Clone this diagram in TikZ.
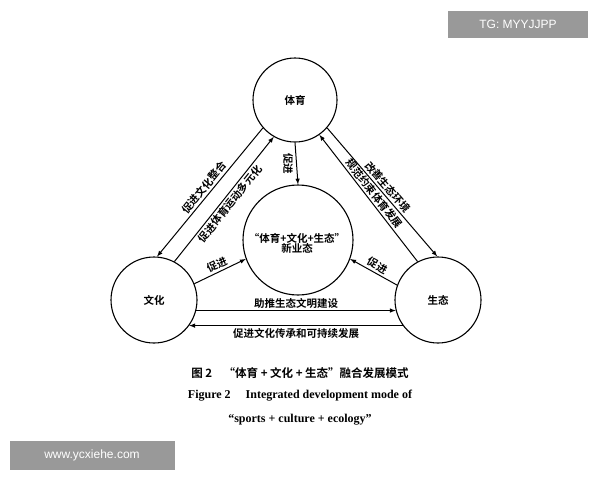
\documentclass[tikz,border=0pt]{standalone}
\usepackage{fontspec}
\setmainfont{Liberation Serif}
\newfontfamily\cjk{Noto Sans CJK SC}[BoldFont={* Bold}]
\newfontfamily\wm{Liberation Sans}
\begin{document}
\begin{tikzpicture}[x=1pt,y=-1pt,
  circ/.style={draw,circle,line width=1.1pt,inner sep=0pt},
  arr/.style={->,line width=1pt,>=latex},
  cj/.style={font=\cjk\bfseries\fontsize{10.5}{12}\selectfont},
  lab/.style={cj,sloped,inner sep=2pt}]
\fill[white] (0,0) rectangle (600,480);
\useasboundingbox (0,0) rectangle (600,480);
\node[circ,minimum size=84pt] (top) at (295,100) {};
\node[circ,minimum size=86pt] (left) at (154,300) {};
\node[circ,minimum size=86pt] (right) at (438,300) {};
\node[circ,minimum size=110pt] (mid) at (298,240) {};
\node[cj] (ttop) at (top) {体育};
\node[cj] (tleft) at (left) {文化};
\node[cj] (tright) at (right) {生态};
\node[cj,align=center] (tmid) at (297,243) {“体育+文化+生态”\\[-2pt]新业态};
% left edge
\draw[arr] (top.221) -- node[lab,anchor=south] {促进文化整合} (left.86);
\draw[arr] (left.62) -- node[lab,auto,swap] {促进体育运动多元化} (top.240);
% right edge
\draw[arr] (top.319) -- node[lab,anchor=south] {改善生态环境} (right.91);
\draw[arr] (right.118) -- node[lab,auto] {规范约束体育发展} (top.305);
% bottom
\draw[arr] (left.-14) -- node[lab,anchor=south] {助推生态文明建设} (right.194);
\draw[arr] (right.216) -- node[lab,anchor=north] {促进文化传承和可持续发展} (left.-36);
% center
\draw[arr] (top.south) -- node[cj,rotate=-90,anchor=north,inner sep=3pt] {促进} (mid.north);
\draw[arr] (left.22) -- node[lab,anchor=south] {促进} (mid.200);
\draw[arr] (right.160) -- node[lab,anchor=south] {促进} (mid.340);
% caption
\node[font=\cjk\bfseries\fontsize{11.5}{13}\selectfont] (cap1) at (300,373) {图 2\quad “体育 + 文化 + 生态”融合发展模式};
\node[font=\bfseries\fontsize{12}{13}\selectfont] (cap2) at (300,396) {Figure 2\quad\ Integrated development mode of};
\node[font=\bfseries\fontsize{12}{13}\selectfont] (cap3) at (300,420) {“sports + culture + ecology”};
% watermarks
\node[fill=black!40,text=white,font=\wm\fontsize{12}{14}\selectfont,minimum width=140pt,minimum height=27pt] (wm1) at (518,24) {TG: MYYJJPP};
\node[fill=black!40,text=white,font=\wm\fontsize{12}{14}\selectfont,minimum width=165pt,minimum height=29pt] (wm2) at (92,455) {www.ycxiehe.com};
\end{tikzpicture}
\end{document}
